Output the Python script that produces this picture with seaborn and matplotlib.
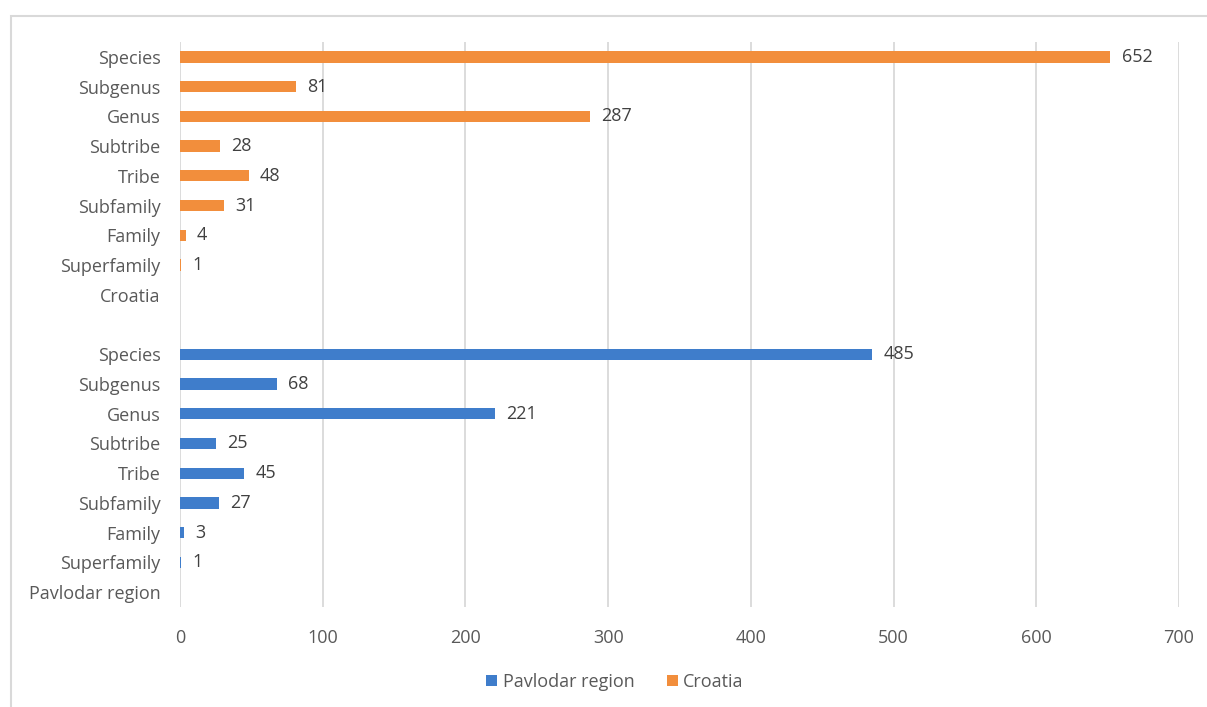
import matplotlib
matplotlib.use('Agg')
import pandas as pd
import matplotlib.pyplot as plt
import seaborn as sns
from matplotlib.patches import Patch, Rectangle

# Data
levels = ['Species', 'Subgenus', 'Genus', 'Subtribe', 'Tribe', 'Subfamily', 'Family', 'Superfamily']
croatia = [652, 81, 287, 28, 48, 31, 4, 1]
pavlodar = [485, 68, 221, 25, 45, 27, 3, 1]
groups = ['Croatia', 'Pavlodar region']

blue = '#3F7DCB'
orange = '#F28E3C'

# Build rows top to bottom (the group name sits under its own block)
order, tick_labels, records = [], [], []
for grp, vals in zip(groups, [croatia, pavlodar]):
    for lvl, v in zip(levels, vals):
        key = grp + '|' + lvl
        order.append(key)
        tick_labels.append(lvl)
        records.append({'key': key, 'count': v, 'region': grp})
    order.append(grp + '|head')
    tick_labels.append(grp)
    if grp == 'Croatia':
        order.append('gap')
        tick_labels.append('')
df = pd.DataFrame(records)

plt.rcParams['font.family'] = ['Open Sans', 'DejaVu Sans']

fig = plt.figure(figsize=(12.07, 7.07), dpi=100)
ax = fig.add_axes([180 / 1207, 1 - 607 / 707, (1179 - 180) / 1207, (607 - 42) / 707])

sns.barplot(ax=ax, data=df, x='count', y='key', hue='region', order=order,
            hue_order=['Pavlodar region', 'Croatia'], palette=[blue, orange],
            dodge=False, width=0.38, legend=False, saturation=1)

for c in ax.containers:
    ax.bar_label(c, padding=8, fontsize=13, color='#404040')

ax.set_xlim(0, 700)
ax.set_xticks(range(0, 701, 100))
ax.set_yticks(range(len(order)))
ax.set_yticklabels(tick_labels)
ax.set_xlabel('')
ax.set_ylabel('')
ax.tick_params(axis='both', length=0, labelsize=13, labelcolor='#595959')
ax.tick_params(axis='y', pad=14)
ax.tick_params(axis='x', pad=16)
ax.grid(axis='x', color='#D9D9D9', linewidth=1.3)
ax.set_axisbelow(True)
for s in ax.spines.values():
    s.set_visible(False)

# outer chart frame
fig.patches.append(Rectangle((11 / 1207, -0.2), 1.2, (707 - 16) / 707 + 0.2,
                             transform=fig.transFigure, fill=False,
                             edgecolor='#D9D9D9', linewidth=1.5))

handles = [Patch(facecolor=blue, label='Pavlodar region'),
           Patch(facecolor=orange, label='Croatia')]
fig.legend(handles=handles, loc='center', bbox_to_anchor=(615 / 1207, 1 - 682 / 707),
           ncol=2, frameon=False, fontsize=13, labelcolor='#595959',
           handlelength=0.6, handleheight=0.6, handletextpad=0.3, columnspacing=1.8)

fig.savefig('out.png', dpi=100)
